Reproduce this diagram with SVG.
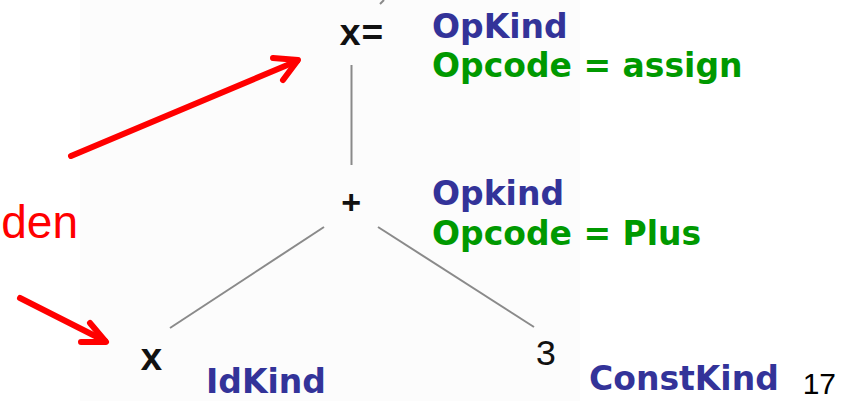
<svg xmlns="http://www.w3.org/2000/svg" width="845" height="401" viewBox="0 0 845 401">
  <style>
    .code { font-family: "Liberation Mono", "Courier New", monospace; fill: #111; }
    .bold { font-weight: bold; }
    .lbl { font-family: "DejaVu Sans", Verdana, sans-serif; font-weight: bold; font-size: 33px; }
    .blue { fill: #333399; }
    .green { fill: #009900; }
    .edge { stroke: #8a8a8a; stroke-width: 2; fill: none; }
    .red { stroke: #ff0000; stroke-width: 6; fill: none; stroke-linecap: round; stroke-linejoin: round; }
  </style>
  <rect width="845" height="401" fill="#ffffff"/>
  <rect x="80" y="0" width="500" height="401" fill="#fcfcfc"/>

  <g id="connectors">
    <path class="edge" d="M384 0 L380 4"/>
    <line class="edge" x1="351.5" y1="65" x2="351.5" y2="165"/>
    <line class="edge" x1="324" y1="227" x2="170" y2="328"/>
    <line class="edge" x1="378" y1="227" x2="534" y2="327"/>
  </g>

  <g id="node-assign">
    <text class="code bold" x="339" y="45" font-size="37">x=</text>
    <text class="lbl blue" x="432" y="38">OpKind</text>
    <text class="lbl green" x="432" y="77">Opcode = assign</text>
  </g>

  <g id="node-plus">
    <text class="code bold" x="341" y="214" font-size="34">+</text>
    <text class="lbl blue" x="432" y="205">Opkind</text>
    <text class="lbl green" x="432" y="245">Opcode = Plus</text>
  </g>

  <g id="node-x">
    <text class="code bold" x="140" y="370" font-size="38">x</text>
    <text class="lbl blue" x="206" y="393">IdKind</text>
  </g>

  <g id="node-3">
    <text class="code" x="535" y="365" font-size="36">3</text>
    <text class="lbl blue" x="589" y="390">ConstKind</text>
  </g>

  <g id="annotation">
    <text x="78" y="238" font-family="Liberation Sans, Arial, sans-serif" font-size="46" fill="#ff0000" text-anchor="end">den</text>
    <line class="red" x1="71" y1="156" x2="297" y2="61"/>
    <polyline class="red" points="273,58 298,60 283,80"/>
    <line class="red" x1="20" y1="298" x2="105" y2="341"/>
    <polyline class="red" points="90,323 106,342 81,342"/>
  </g>

  <text x="836" y="394" font-family="Liberation Sans, Arial, sans-serif" font-size="30" fill="#000" text-anchor="end">17</text>
</svg>
